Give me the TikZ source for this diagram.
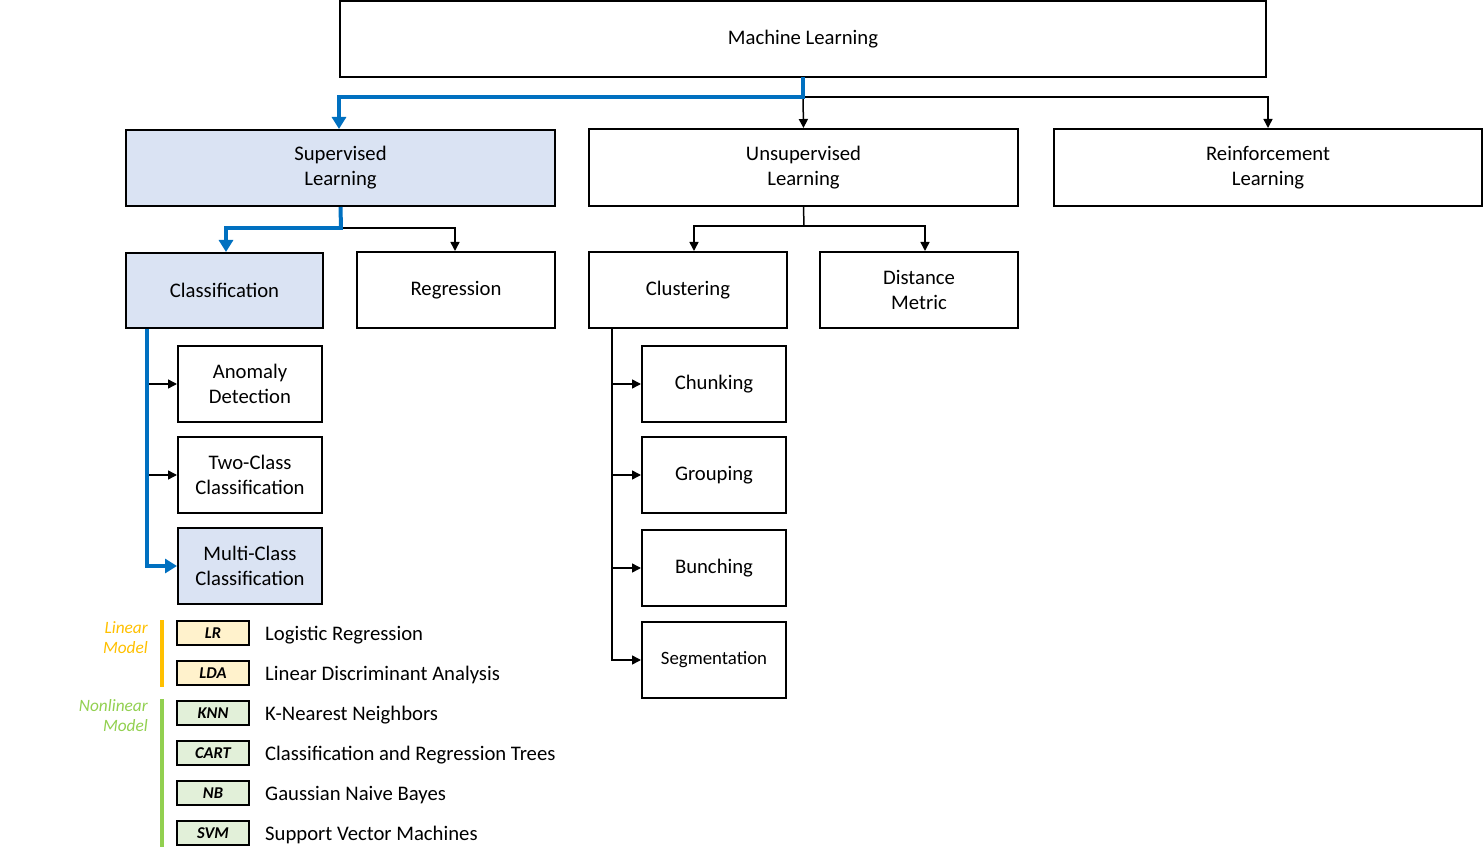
\documentclass[tikz,border=0pt]{standalone}
\usepackage{fontspec}
\setmainfont{Carlito}
\usetikzlibrary{arrows.meta,calc}
\definecolor{mlblue}{HTML}{0070C0}
\definecolor{boxblue}{HTML}{DAE3F3}
\definecolor{linorange}{HTML}{FFC000}
\definecolor{nlgreen}{HTML}{92D050}
\definecolor{linfill}{HTML}{FFF2CC}
\definecolor{nlfill}{HTML}{E2F0D9}
\begin{document}
\begin{tikzpicture}[x=1pt,y=-1pt,
  box/.style={draw, line width=2pt, fill=white, align=center, inner sep=0pt,
    font=\fontsize{20.7}{25}\selectfont},
  sel/.style={box, fill=boxblue},
  conn/.style={line width=1.5pt, -{Triangle[length=9pt,width=9pt]}},
  plain/.style={line width=1.5pt},
  bconn/.style={line width=4pt, draw=mlblue, -{Triangle[length=12pt,width=14pt]}},
  bplain/.style={line width=4pt, draw=mlblue},
  tag/.style={draw, line width=2pt, minimum width=72pt, minimum height=24pt, inner sep=0pt,
    font=\fontsize{16.5}{18}\selectfont\bfseries\itshape},
  ltext/.style={anchor=west, inner sep=0pt, font=\fontsize{20.7}{24}\selectfont},
  grp/.style={anchor=east, align=right, inner sep=0pt, font=\fontsize{17.3}{20}\selectfont\itshape}
]
\useasboundingbox (0,0) rectangle (1484,866);

% main boxes
\node[box, minimum width=926pt, minimum height=76pt] (ml) at (803,39) {Machine Learning};
\node[sel, minimum width=429pt, minimum height=76pt] (sup) at (340.5,168) {Supervised\\Learning};
\node[box, minimum width=429pt, minimum height=77pt] (uns) at (803.5,167.5) {Unsupervised\\Learning};
\node[box, minimum width=428pt, minimum height=77pt] (rl) at (1268,167.5) {Reinforcement\\Learning};

\node[sel, minimum width=197pt, minimum height=75pt] (cls) at (224.5,290.5) {Classification};
\node[box, minimum width=198pt, minimum height=76pt] (reg) at (456,290) {Regression};
\node[box, minimum width=198pt, minimum height=76pt] (clu) at (688,290) {Clustering};
\node[box, minimum width=198pt, minimum height=76pt] (dm) at (919,290) {Distance\\Metric};

\node[box, minimum width=144pt, minimum height=76pt] (ad) at (250,384) {Anomaly\\Detection};
\node[box, minimum width=144pt, minimum height=76pt] (tc) at (250,475) {Two-Class\\Classification};
\node[sel, minimum width=144pt, minimum height=76pt] (mc) at (250,566) {Multi-Class\\Classification};

\node[box, minimum width=144pt, minimum height=76pt] (chu) at (714,384) {Chunking};
\node[box, minimum width=144pt, minimum height=76pt] (grp) at (714,475) {Grouping};
\node[box, minimum width=144pt, minimum height=76pt] (bun) at (714,568) {Bunching};
\node[box, minimum width=144pt, minimum height=76pt, font=\fontsize{18.8}{22}\selectfont] (seg) at (714,660) {Segmentation};

% connectors level 1
\coordinate (j1) at (803,97);
\draw[plain] (ml.south) -- (j1);
\draw[conn] (j1) -- (uns.north);
\draw[conn] (j1) -| (rl.north);
\draw[bplain] (803,77) -- (803,97);
\draw[bconn] (805,97) -| ($(sup.north)+(-1.5,0)$);

% supervised
\coordinate (j2) at (341,228);
\draw[conn] (j2) -| ($(reg.north)+(-1,0)$);
\draw[bplain] (sup.south) -- (j2);
\draw[bconn] (343,228) -| ($(cls.north)+(1.5,0)$);

% unsupervised
\coordinate (j3) at (804,226);
\draw[plain] (uns.south) -- (j3);
\draw[conn] (j3) -| ($(clu.north)+(6,0)$);
\draw[conn] (j3) -| ($(dm.north)+(6,0)$);

% classification
\coordinate (c0) at (147,329);
\draw[conn] (c0 |- ad.west) -- (ad.west);
\draw[conn] (c0 |- tc.west) -- (tc.west);
\draw[bconn] (c0) |- (mc.west);

% clustering
\coordinate (k0) at (612,328);
\draw[conn] (k0) |- (seg.west);
\draw[conn] (k0 |- chu.west) -- (chu.west);
\draw[conn] (k0 |- grp.west) -- (grp.west);
\draw[conn] (k0 |- bun.west) -- (bun.west);

% legend
\node[tag, fill=linfill] (lr) at (213,633) {LR};
\node[tag, fill=linfill] (lda) at (213,673) {LDA};
\node[tag, fill=nlfill] (knn) at (213,713) {KNN};
\node[tag, fill=nlfill] (cart) at (213,753) {CART};
\node[tag, fill=nlfill] (nb) at (213,793) {NB};
\node[tag, fill=nlfill] (svm) at (213,833) {SVM};

\node[ltext] (tlr) at (265,635) {Logistic Regression};
\node[ltext] (tlda) at (265,675) {Linear Discriminant Analysis};
\node[ltext] (tknn) at (265,715) {K-Nearest Neighbors};
\node[ltext] (tcart) at (265,755) {Classification and Regression Trees};
\node[ltext] (tnb) at (265,795) {Gaussian Naive Bayes};
\node[ltext] (tsvm) at (265,835) {Support Vector Machines};

\draw[draw=linorange, line width=4pt] (162,620) -- (162,687);
\draw[draw=nlgreen, line width=4pt] (162,699) -- (162,847);
\node[grp, text=linorange] (glin) at (148,638) {Linear\\Model};
\node[grp, text=nlgreen] (gnl) at (148,716) {Nonlinear\\Model};
\end{tikzpicture}
\end{document}
